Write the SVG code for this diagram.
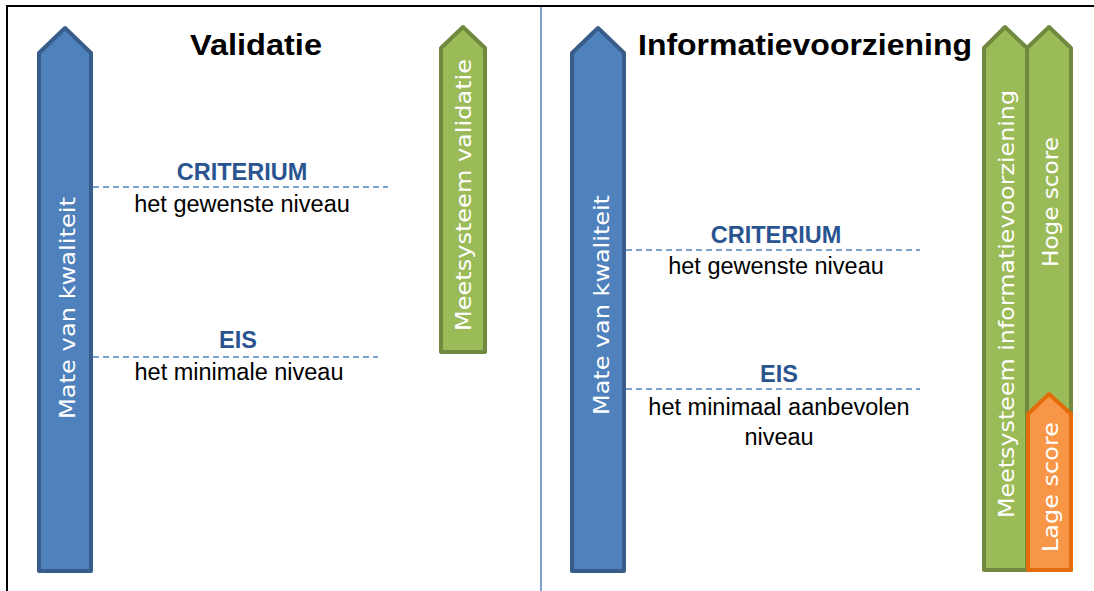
<svg xmlns="http://www.w3.org/2000/svg" width="1094" height="591" viewBox="0 0 1094 591">
<style>
.blue{fill:#4F81BD;stroke:#385D8A;stroke-width:4;stroke-linejoin:round}
.green{fill:#9BBB59;stroke:#71893F;stroke-width:4;stroke-linejoin:round}
.orange{fill:#F79646;stroke:#E46C0A;stroke-width:4;stroke-linejoin:round}
.vt{font-family:"DejaVu Sans",sans-serif;font-size:22px;fill:#fff;text-anchor:middle}
.title{font-family:"Liberation Sans",Arial,sans-serif;font-size:30px;font-weight:bold;fill:#000;text-anchor:middle}
.head{font-family:"Liberation Sans",Arial,sans-serif;font-size:23.5px;font-weight:bold;fill:#2A5490;text-anchor:middle}
.sub{font-family:"Liberation Sans",Arial,sans-serif;font-size:23.5px;fill:#000;text-anchor:middle}
.dash{stroke:#4F81BD;stroke-width:1.5;stroke-dasharray:6,4;fill:none}
</style>
<rect width="1094" height="591" fill="#fff"/>
<path d="M7,591 V6 H1094" fill="none" stroke="#000" stroke-width="2"/>
<line x1="541" y1="7" x2="541" y2="591" stroke="#4F81BD" stroke-width="1.5"/>
<g id="title-validatie"><text class="title" x="256" y="55" textLength="132" lengthAdjust="spacingAndGlyphs">Validatie</text></g>
<g id="title-info"><text class="title" x="805" y="55" textLength="334" lengthAdjust="spacingAndGlyphs">Informatievoorziening</text></g>
<g id="arrow-left-blue">
<path class="blue" d="M39,571 V53 L65,28 L91,53 V571 Z"/>
<text class="vt" transform="translate(75,308) rotate(-90)" textLength="222" lengthAdjust="spacingAndGlyphs">Mate van kwaliteit</text>
</g>
<g id="arrow-left-green">
<path class="green" d="M441,352 V48 L463,27 L485,48 V352 Z"/>
<text class="vt" transform="translate(471,195) rotate(-90)" textLength="272" lengthAdjust="spacingAndGlyphs">Meetsysteem validatie</text>
</g>
<g id="arrow-right-blue">
<path class="blue" d="M572,571 V53 L598,28 L624,53 V571 Z"/>
<text class="vt" transform="translate(609,305) rotate(-90)" textLength="220" lengthAdjust="spacingAndGlyphs">Mate van kwaliteit</text>
</g>
<g id="arrow-right-green1">
<path class="green" d="M984,570 V48 L1005,27 L1027,48 V570 Z"/>
<text class="vt" transform="translate(1014,304) rotate(-90)" textLength="428" lengthAdjust="spacingAndGlyphs">Meetsysteem informatievoorziening</text>
</g>
<g id="arrow-right-green2">
<path class="green" d="M1027,570 V48 L1049,27 L1071,48 V570 Z"/>
<text class="vt" transform="translate(1058,202) rotate(-90)" textLength="130" lengthAdjust="spacingAndGlyphs">Hoge score</text>
</g>
<g id="arrow-right-orange">
<path class="orange" d="M1028,570 V414 L1049,394 L1071,414 V570 Z"/>
<text class="vt" transform="translate(1058,487) rotate(-90)" textLength="130" lengthAdjust="spacingAndGlyphs">Lage score</text>
</g>
<g id="connectors">
<line class="dash" x1="93" y1="187" x2="388" y2="187"/>
<line class="dash" x1="93" y1="357" x2="378" y2="357"/>
<line class="dash" x1="626" y1="250" x2="920" y2="250"/>
<line class="dash" x1="626" y1="389" x2="920" y2="389"/>
</g>
<g id="label-left-criterium">
<text class="head" x="242" y="180">CRITERIUM</text>
<text class="sub" x="242" y="212">het gewenste niveau</text>
</g>
<g id="label-left-eis">
<text class="head" x="238" y="348">EIS</text>
<text class="sub" x="239" y="380">het minimale niveau</text>
</g>
<g id="label-right-criterium">
<text class="head" x="776" y="243">CRITERIUM</text>
<text class="sub" x="776" y="274">het gewenste niveau</text>
</g>
<g id="label-right-eis">
<text class="head" x="779" y="382">EIS</text>
<text class="sub" x="779" y="415">het minimaal aanbevolen</text>
<text class="sub" x="779" y="445">niveau</text>
</g>
</svg>
